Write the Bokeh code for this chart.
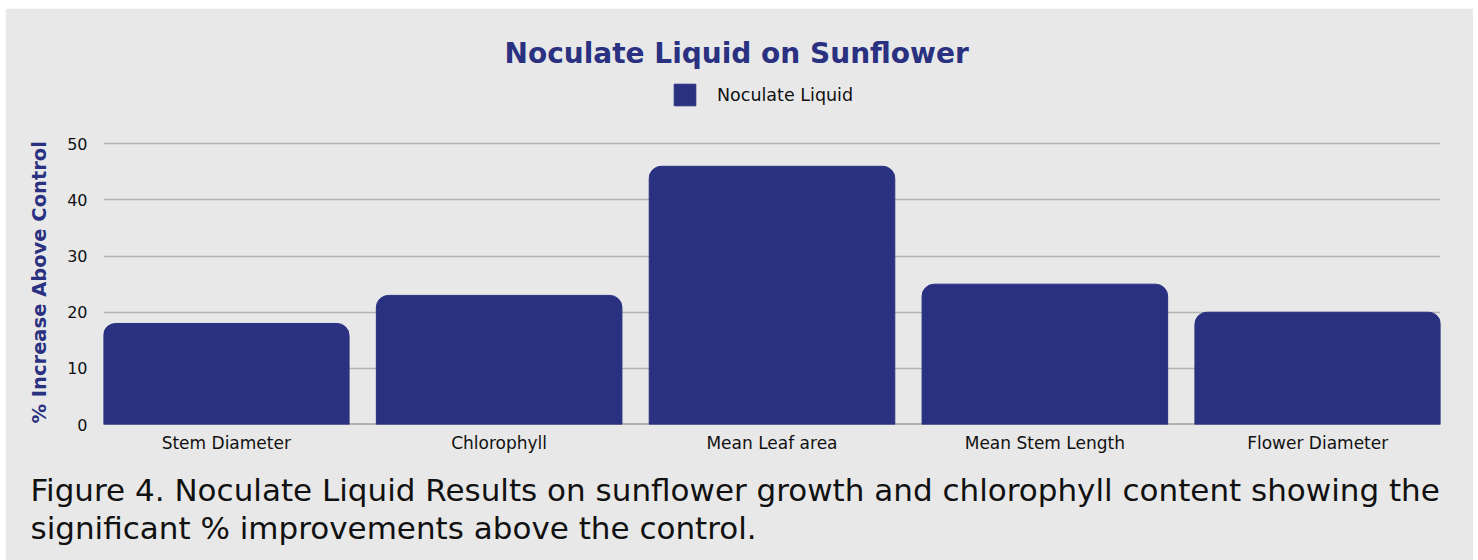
from bokeh.plotting import figure
from bokeh.models import (FactorRange, Range1d, Legend, LegendItem, Title, Span,
                          FixedTicker, ColumnDataSource)
from bokeh.embed import file_html
from bokeh.resources import INLINE

categories = ["Stem Diameter", "Chlorophyll", "Mean Leaf area", "Mean Stem Length", "Flower Diameter"]
values = [18, 23, 46, 25, 20]
y_ticks = [0, 10, 20, 30, 40, 50]
series_name = "Noculate Liquid"
title_text = "Noculate Liquid on Sunflower"
y_label = "% Increase Above Control"
caption_lines = ["Figure 4. Noculate Liquid Results on sunflower growth and chlorophyll content showing the",
                 "significant % improvements above the control."]

NAVY = "#293180"
BG = "#e8e8e8"
FONT = "DejaVu Sans"
Y_TOP = 62  # headroom above the last tick so the legend sits inside the frame

src = ColumnDataSource(dict(cat=categories, val=values))

p = figure(width=1468, height=552, output_backend="svg", toolbar_location=None,
           x_range=FactorRange(factors=categories, range_padding=-0.02),
           y_range=Range1d(0, Y_TOP),
           background_fill_color=BG, border_fill_color=BG,
           outline_line_color=BG, outline_line_width=2,
           min_border_left=98, min_border_right=33, min_border_top=68, min_border_bottom=134)
p.margin = (8, 5, 0, 5)

p.title.text = title_text
p.title.text_font = FONT
p.title.text_font_size = "28px"
p.title.text_font_style = "bold"
p.title.text_color = NAVY
p.title.align = "left"
p.title.offset = 401
p.title.standoff = 14

p.ygrid.grid_line_color = "#b4b4b4"
p.ygrid.grid_line_width = 1.5
p.xgrid.grid_line_color = None

p.yaxis.ticker = FixedTicker(ticks=y_ticks)
p.yaxis.axis_line_color = None
p.yaxis.major_tick_line_color = None
p.yaxis.minor_tick_line_color = None
p.yaxis.major_label_text_font = FONT
p.yaxis.major_label_text_font_size = "16px"
p.yaxis.major_label_text_color = "#111111"
p.yaxis.major_label_standoff = 10

ytitle = Title(text=y_label, align="left", offset=1, text_font=FONT, text_font_size="19.5px",
               text_font_style="bold", text_color=NAVY, standoff=28)
p.add_layout(ytitle, "left")

p.xaxis.axis_line_color = None
p.xaxis.major_tick_line_color = None
p.xaxis.minor_tick_line_color = None
p.xaxis.major_label_text_font = FONT
p.xaxis.major_label_text_font_size = "17px"
p.xaxis.major_label_text_color = "#111111"
p.xaxis.major_label_standoff = 2

base = Span(location=0, dimension="width", line_color="#7a7a7a", line_width=2, level="underlay")
p.add_layout(base)

r = p.vbar(x="cat", top="val", width=0.9, source=src, fill_color=NAVY, line_color=NAVY,
           border_radius=(12, 12, 0, 0))

legend = Legend(items=[LegendItem(label=series_name, renderers=[r])],
                orientation="horizontal", location=(568, 316),
                background_fill_alpha=0, border_line_color=None,
                glyph_width=27, glyph_height=27, label_standoff=19,
                label_text_font=FONT, label_text_font_size="17.5px", label_text_color="#111111",
                padding=4, margin=0)
p.add_layout(legend, "center")

caption = Title(text="\n".join(caption_lines), align="left", offset=-73, text_font=FONT,
                text_font_size="31px", text_font_style="normal", text_color="#111111",
                text_line_height=1.065, standoff=29)
p.add_layout(caption, "below")

open("out.html", "w").write(file_html(p, INLINE))
